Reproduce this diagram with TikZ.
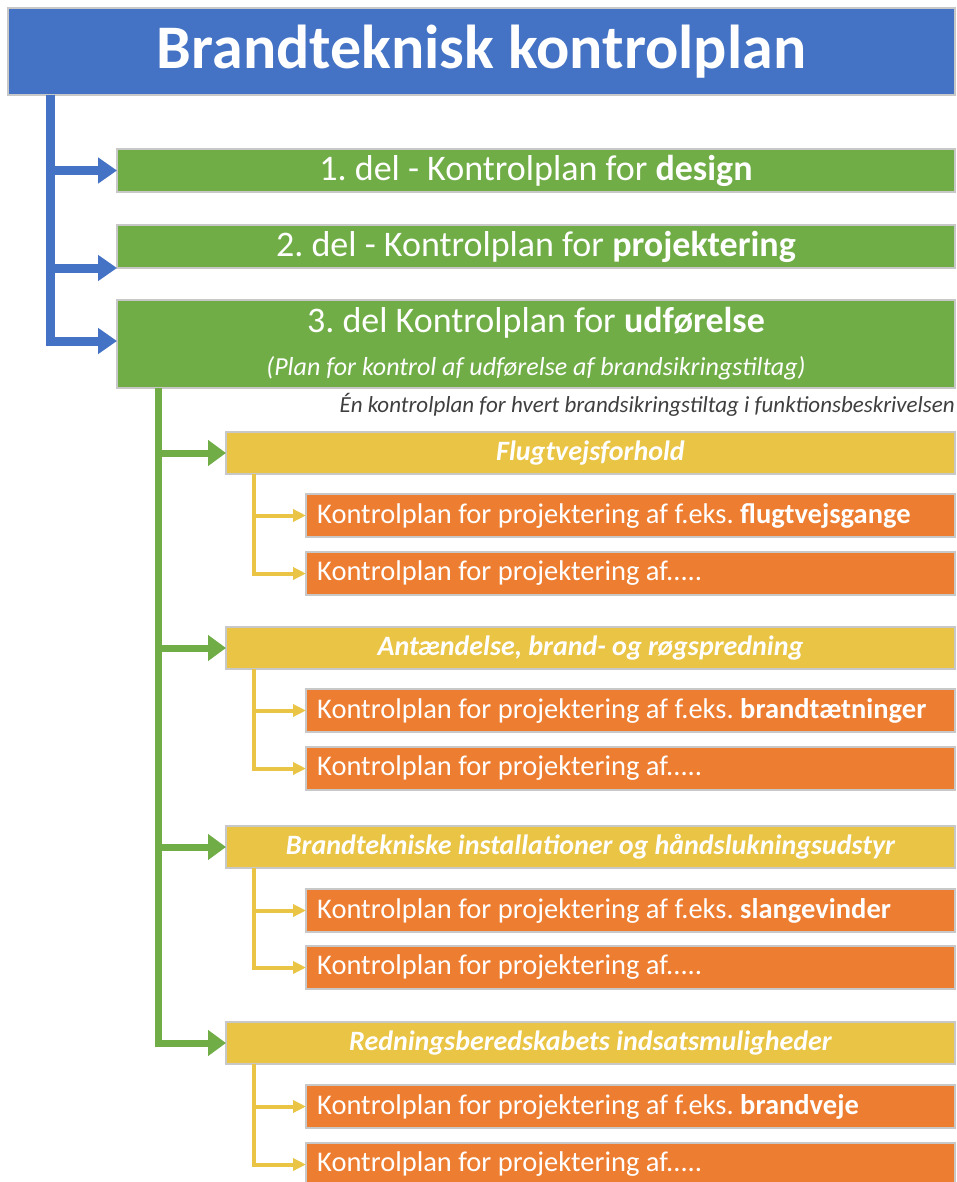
\documentclass[tikz,border=0pt]{standalone}
\usepackage{fontspec}
\setmainfont{Carlito}
\usetikzlibrary{arrows.meta}
\definecolor{tblue}{HTML}{4472C4}
\definecolor{tgreen}{HTML}{70AD47}
\definecolor{tyellow}{HTML}{E9C445}
\definecolor{torange}{HTML}{ED7D31}
\definecolor{boxline}{HTML}{C8C8C8}
\definecolor{notegray}{HTML}{3F3F3F}
\tikzset{
  box/.style={draw=boxline, line width=1.2pt, inner sep=0pt, outer sep=0pt, anchor=north west, text=white},
  titlebox/.style={box, fill=tblue, minimum width=947pt, minimum height=87pt, font=\fontsize{62}{68}\selectfont\bfseries},
  greenbox/.style={box, fill=tgreen, minimum width=838pt, minimum height=43pt, font=\fontsize{36}{40}\selectfont},
  yellowbox/.style={box, fill=tyellow, minimum width=729pt, minimum height=42pt, font=\fontsize{28}{33}\selectfont\bfseries\itshape},
  orangebox/.style={box, fill=torange, minimum height=43pt, minimum width=649pt},
  otext/.style={text=white, inner sep=0pt, anchor=west, font=\fontsize{28.5}{33}\selectfont},
  bluearrow/.style={draw=tblue, line width=9pt, -{Triangle[length=19pt,width=25pt]}},
  greenarrow/.style={draw=tgreen, line width=7pt, -{Triangle[length=18pt,width=25pt]}},
  yellowarrow/.style={draw=tyellow, line width=4pt, -{Triangle[length=13pt,width=12pt]}},
}
\begin{document}
\frenchspacing
\begin{tikzpicture}[x=1pt,y=-1pt]
\clip (0,0) rectangle (957,1182);
\fill[white] (0,0) rectangle (957,1182);

% title
\node[titlebox] (title) at (8,8) {\raisebox{-2pt}{Brandteknisk kontrolplan}};

% green boxes
\node[greenbox] (g1) at (117,149) {1. del - Kontrolplan for \textbf{design}};
\node[greenbox] (g2) at (117,225) {2. del - Kontrolplan for \textbf{projektering}};
\node[box, fill=tgreen, minimum width=838pt, minimum height=88pt] (g3) at (117,300) {};
\node[text=white, font=\fontsize{36}{40}\selectfont, inner sep=0pt] (g3a) at (536,323) {3. del Kontrolplan for \textbf{udførelse}};
\node[text=white, font=\fontsize{26}{30}\selectfont\itshape, inner sep=0pt] (g3b) at (536,368) {(Plan for kontrol af udførelse af brandsikringstiltag)};

% note
\node[text=notegray, font=\fontsize{23}{27}\selectfont\itshape, inner sep=0pt, anchor=east] (note) at (955,405) {Én kontrolplan for hvert brandsikringstiltag i funktionsbeskrivelsen};

% blue connectors
\coordinate (bt) at (50,95);
\draw[bluearrow] (bt) |- (g1.west);
\draw[bluearrow] (bt) |- (g2.south west);
\draw[bluearrow] (bt) |- ([yshift=3pt]g3.west);

% group 1
\node[yellowbox] (y1) at (226,432) {Flugtvejsforhold};
\node[orangebox] (o1a) at (306,494) {};
\node[otext] (o1at) at ([xshift=11pt]o1a.west) {Kontrolplan for projektering af f.eks. \textbf{flugtvejsgange}};
\node[orangebox] (o1b) at (306,552) {};
\node[otext] (o1bt) at ([xshift=11pt]o1b.west) {Kontrolplan for projektering af.....};
% group 2
\node[yellowbox] (y2) at (226,627) {Antændelse, brand- og røgspredning};
\node[orangebox] (o2a) at (306,689) {};
\node[otext] (o2at) at ([xshift=11pt]o2a.west) {Kontrolplan for projektering af f.eks. \textbf{brandtætninger}};
\node[orangebox] (o2b) at (306,747) {};
\node[otext] (o2bt) at ([xshift=11pt]o2b.west) {Kontrolplan for projektering af.....};
% group 3
\node[yellowbox] (y3) at (226,826) {Brandtekniske installationer og håndslukningsudstyr};
\node[orangebox] (o3a) at (306,889) {};
\node[otext] (o3at) at ([xshift=11pt]o3a.west) {Kontrolplan for projektering af f.eks. \textbf{slangevinder}};
\node[orangebox] (o3b) at (306,946) {};
\node[otext] (o3bt) at ([xshift=11pt]o3b.west) {Kontrolplan for projektering af.....};
% group 4
\node[yellowbox] (y4) at (226,1022) {Redningsberedskabets indsatsmuligheder};
\node[orangebox] (o4a) at (306,1085) {};
\node[otext] (o4at) at ([xshift=11pt]o4a.west) {Kontrolplan for projektering af f.eks. \textbf{brandveje}};
\node[orangebox] (o4b) at (306,1143) {};
\node[otext] (o4bt) at ([xshift=11pt]o4b.west) {Kontrolplan for projektering af.....};

% green connectors
\coordinate (gt) at (158,388);
\draw[greenarrow] (gt) |- (y1.west);
\draw[greenarrow] (gt) |- (y2.west);
\draw[greenarrow] (gt) |- (y3.west);
\draw[greenarrow] (gt) |- (y4.west);

% yellow connectors
\coordinate (yt1) at (254,474);
\draw[yellowarrow] (yt1) |- (o1a.west);
\draw[yellowarrow] (yt1) |- (o1b.west);
\coordinate (yt2) at (254,669);
\draw[yellowarrow] (yt2) |- (o2a.west);
\draw[yellowarrow] (yt2) |- (o2b.west);
\coordinate (yt3) at (254,868);
\draw[yellowarrow] (yt3) |- (o3a.west);
\draw[yellowarrow] (yt3) |- (o3b.west);
\coordinate (yt4) at (254,1064);
\draw[yellowarrow] (yt4) |- (o4a.west);
\draw[yellowarrow] (yt4) |- (o4b.west);
\end{tikzpicture}
\end{document}
